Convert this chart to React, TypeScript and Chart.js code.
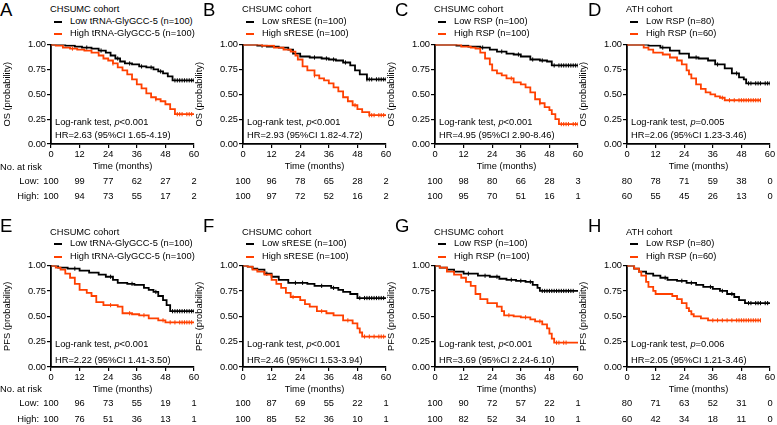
import React, { useEffect, useRef } from 'react';
import { Chart, registerables } from 'chart.js';
Chart.register(...registerables);

const FONT = '"Liberation Sans", Arial, Helvetica, sans-serif';
const BLACK = '#000000';
const RED = '#ff4000';
const FS = 9.3;

// ---------- Data (time in months, survival probability) ----------
const A_lowT = [0, 6, 10, 13, 17, 20, 23, 25, 27, 29, 31, 34, 37, 40, 43, 45, 47, 49, 51, 60];
const A_lowS = [1, 0.99, 0.98, 0.97, 0.96, 0.94, 0.92, 0.89, 0.86, 0.83, 0.81, 0.8, 0.78, 0.77, 0.75, 0.73, 0.71, 0.68, 0.64, 0.64];
const A_highT = [0, 2, 5, 8, 11, 14, 17, 20, 22, 24, 26, 28, 30, 32, 34, 36, 38, 40, 42, 44, 46, 48, 50, 52, 60];
const A_highS = [1, 0.99, 0.97, 0.96, 0.95, 0.94, 0.92, 0.89, 0.86, 0.84, 0.81, 0.77, 0.74, 0.7, 0.65, 0.6, 0.56, 0.51, 0.47, 0.45, 0.43, 0.4, 0.35, 0.3, 0.3];
const A_lowC = [15, 21, 28, 33, 38, 42, 46, 52, 53, 54, 55, 56, 57, 58, 59, 60];
const A_highC = [9, 26, 44, 53, 54, 55, 57, 58, 59];

const B_lowT = [0, 6, 10, 15, 19, 21, 24, 28, 33, 36, 39, 42, 45, 47, 49, 52, 60];
const B_lowS = [1, 0.99, 0.98, 0.97, 0.95, 0.91, 0.88, 0.87, 0.86, 0.85, 0.84, 0.82, 0.79, 0.74, 0.7, 0.65, 0.65];
const B_highT = [0, 8, 13, 17, 20, 22, 23, 25, 27, 30, 32, 34, 36, 38, 40, 42, 44, 46, 48, 50, 53, 60];
const B_highS = [1, 0.99, 0.97, 0.95, 0.93, 0.89, 0.85, 0.78, 0.74, 0.69, 0.66, 0.64, 0.61, 0.57, 0.53, 0.47, 0.43, 0.39, 0.35, 0.32, 0.29, 0.29];
const B_lowC = [8, 30, 35, 38, 43, 52, 53, 54, 56, 57, 58, 59, 60];
const B_highC = [30, 47, 53, 54, 55, 57, 58, 59];

const C_lowT = [0, 9, 14, 19, 23, 26, 30, 33, 36, 40, 44, 47, 49, 60];
const C_lowS = [1, 0.99, 0.98, 0.97, 0.95, 0.93, 0.91, 0.9, 0.88, 0.85, 0.84, 0.83, 0.79, 0.79];
const C_highT = [0, 11, 15, 17, 19, 21, 23, 24, 26, 28, 30, 33, 36, 38, 40, 42, 44, 46, 48, 49, 50.5, 52, 60];
const C_highS = [1, 0.98, 0.97, 0.96, 0.92, 0.86, 0.8, 0.74, 0.71, 0.69, 0.66, 0.62, 0.6, 0.57, 0.52, 0.45, 0.41, 0.37, 0.34, 0.3, 0.25, 0.2, 0.2];
const C_lowC = [20, 28, 35, 41, 45, 50, 52, 53, 54, 55, 56, 57, 58, 59, 60];
const C_highC = [32, 44, 53, 54, 55, 56, 58, 59, 60];

const D_lowT = [0, 9, 14, 18, 22, 26, 30, 34, 37, 41, 44, 47, 49, 50, 60];
const D_lowS = [1, 0.99, 0.97, 0.94, 0.91, 0.87, 0.86, 0.84, 0.8, 0.76, 0.71, 0.67, 0.65, 0.61, 0.61];
const D_highT = [0, 7, 9, 11, 15, 18, 21, 23, 25, 26, 27, 29, 31, 33, 35, 37, 39, 41, 56];
const D_highS = [1, 0.97, 0.95, 0.92, 0.9, 0.87, 0.84, 0.8, 0.74, 0.7, 0.66, 0.6, 0.555, 0.52, 0.5, 0.48, 0.465, 0.44, 0.44];
const D_lowC = [15, 29, 38, 46, 51, 52, 54, 55, 56, 58, 59, 60];
const D_highC = [40, 43, 45, 47, 48, 49, 50, 51, 52, 53, 54, 55, 56];

const E_lowT = [0, 3, 7, 12, 16, 20, 23, 26, 28, 32, 35, 39, 41, 43, 45, 47, 48.5, 50, 60];
const E_lowS = [1, 0.98, 0.97, 0.95, 0.93, 0.91, 0.89, 0.86, 0.83, 0.82, 0.81, 0.78, 0.76, 0.74, 0.7, 0.66, 0.61, 0.55, 0.55];
const E_highT = [0, 2, 4, 6, 8, 10, 12, 15, 17, 19, 22, 28, 30, 34, 37, 41, 45, 48, 60];
const E_highS = [1, 0.98, 0.96, 0.92, 0.88, 0.82, 0.76, 0.73, 0.7, 0.64, 0.61, 0.595, 0.53, 0.52, 0.51, 0.48, 0.46, 0.44, 0.44];
const E_lowC = [10, 25, 34, 44, 51, 52, 53, 54, 55, 56, 57, 58, 59, 60];
const E_highC = [25, 33, 39, 47, 50, 52, 54, 55, 56, 57, 58, 59];

const F_lowT = [0, 2, 4, 6, 9, 12, 15, 19, 27, 30, 37, 40, 42, 45, 48, 60];
const F_lowS = [1, 0.99, 0.97, 0.96, 0.92, 0.89, 0.86, 0.83, 0.82, 0.8, 0.78, 0.76, 0.74, 0.72, 0.68, 0.68];
const F_highT = [0, 2, 4, 6, 9, 12, 14, 16, 18, 20, 24, 26, 28, 31, 35, 38, 42, 46, 48, 49, 50, 60];
const F_highS = [1, 0.99, 0.96, 0.94, 0.91, 0.86, 0.82, 0.78, 0.73, 0.69, 0.66, 0.62, 0.595, 0.55, 0.53, 0.51, 0.46, 0.43, 0.38, 0.34, 0.3, 0.3];
const F_lowC = [10, 22, 25, 33, 38, 49, 51, 52, 53, 54, 55, 56, 57, 58, 59];
const F_highC = [21, 33, 44, 51, 53, 55, 57, 58, 59];

const G_lowT = [0, 2, 5, 8, 12, 18, 23, 27, 30, 34, 38, 41, 43, 44, 60];
const G_lowS = [1, 0.98, 0.96, 0.94, 0.92, 0.9, 0.89, 0.87, 0.86, 0.85, 0.84, 0.81, 0.78, 0.75, 0.75];
const G_highT = [0, 2, 5, 8, 11, 13, 15, 17, 19, 22, 26, 28, 29, 33, 36, 40, 42, 45, 47, 48, 49, 50, 60];
const G_highS = [1, 0.98, 0.94, 0.91, 0.88, 0.84, 0.8, 0.72, 0.67, 0.63, 0.595, 0.55, 0.51, 0.5, 0.49, 0.47, 0.45, 0.42, 0.38, 0.33, 0.28, 0.24, 0.24];
const G_lowC = [14, 21, 26, 32, 36, 40, 45, 46, 47, 48, 49, 50, 51, 52, 53, 54, 55, 56, 57, 58];
const G_highC = [31, 38, 44, 51, 52, 54, 55];

const H_lowT = [0, 3, 5, 8, 11, 14, 17, 21, 25, 29, 32, 36, 39, 42, 45, 47, 49.5, 60];
const H_lowS = [1, 0.97, 0.94, 0.92, 0.9, 0.88, 0.86, 0.85, 0.83, 0.81, 0.79, 0.77, 0.75, 0.72, 0.69, 0.66, 0.63, 0.63];
const H_highT = [0, 3, 5, 6, 8, 9, 11, 12, 19, 21, 23, 25, 26, 27, 28, 31, 34, 56];
const H_highS = [1, 0.97, 0.94, 0.9, 0.84, 0.79, 0.75, 0.72, 0.7, 0.67, 0.63, 0.58, 0.55, 0.52, 0.5, 0.48, 0.46, 0.46];
const H_lowC = [16, 23, 27, 35, 40, 44, 51, 52, 54, 55, 56, 58, 59];
const H_highC = [36, 38, 40, 42, 44, 46, 47, 48, 49, 50, 51, 52, 53, 54, 55, 56];

// at-risk tables
const RISK_TIMES = [0, 12, 24, 36, 48, 60];
const A_riskLow = [100, 99, 77, 62, 27, 2];
const A_riskHigh = [100, 94, 73, 55, 17, 2];
const B_riskLow = [100, 96, 78, 65, 28, 2];
const B_riskHigh = [100, 97, 72, 52, 16, 2];
const C_riskLow = [100, 98, 80, 66, 28, 3];
const C_riskHigh = [100, 95, 70, 51, 16, 1];
const D_riskLow = [80, 78, 71, 59, 38, 0];
const D_riskHigh = [60, 55, 45, 26, 13, 0];
const E_riskLow = [100, 96, 73, 55, 19, 1];
const E_riskHigh = [100, 76, 51, 36, 13, 1];
const F_riskLow = [100, 87, 69, 55, 22, 1];
const F_riskHigh = [100, 85, 52, 36, 10, 1];
const G_riskLow = [100, 90, 72, 57, 22, 1];
const G_riskHigh = [100, 82, 52, 34, 10, 1];
const H_riskLow = [80, 71, 63, 52, 31, 0];
const H_riskHigh = [60, 42, 34, 18, 11, 0];

const X_TICKS = [0, 12, 24, 36, 48, 60];
const Y_TICKS = [0, 0.25, 0.5, 0.75, 1];

// ---------- Layout ----------
const COL_X = [51, 243, 435, 627];
const LETTER_X = [0, 203, 395, 588];
const PLOT_W = 143;
const ROWS = [
  { top: 44, bottom: 144, letterY: 10, cohortY: 10, leg1Y: 22, leg2Y: 34.3, logY: 122.5, hrY: 136, riskHeadY: 168, riskLowY: 181.7, riskHighY: 197.3, yTitle: 'OS (probability)' },
  { top: 265, bottom: 367, letterY: 226, cohortY: 232.7, leg1Y: 243.5, leg2Y: 257.3, logY: 344.5, hrY: 360.5, riskHeadY: 390, riskLowY: 404, riskHighY: 419.5, yTitle: 'PFS (probability)' },
];

type PanelDef = {
  letter: string; row: number; col: number; cohort: string;
  lowLabel: string; highLabel: string; pText: string; hr: string;
  lowT: number[]; lowS: number[]; highT: number[]; highS: number[];
  lowC: number[]; highC: number[]; riskLow: number[]; riskHigh: number[];
};

const PANELS: PanelDef[] = [
  { letter: 'A', row: 0, col: 0, cohort: 'CHSUMC cohort', lowLabel: 'Low tRNA-GlyGCC-5 (n=100)', highLabel: 'High tRNA-GlyGCC-5 (n=100)', pText: '<0.001', hr: 'HR=2.63 (95%CI 1.65-4.19)', lowT: A_lowT, lowS: A_lowS, highT: A_highT, highS: A_highS, lowC: A_lowC, highC: A_highC, riskLow: A_riskLow, riskHigh: A_riskHigh },
  { letter: 'B', row: 0, col: 1, cohort: 'CHSUMC cohort', lowLabel: 'Low sRESE (n=100)', highLabel: 'High sRESE (n=100)', pText: '<0.001', hr: 'HR=2.93 (95%CI 1.82-4.72)', lowT: B_lowT, lowS: B_lowS, highT: B_highT, highS: B_highS, lowC: B_lowC, highC: B_highC, riskLow: B_riskLow, riskHigh: B_riskHigh },
  { letter: 'C', row: 0, col: 2, cohort: 'CHSUMC cohort', lowLabel: 'Low RSP (n=100)', highLabel: 'High RSP (n=100)', pText: '<0.001', hr: 'HR=4.95 (95%CI 2.90-8.46)', lowT: C_lowT, lowS: C_lowS, highT: C_highT, highS: C_highS, lowC: C_lowC, highC: C_highC, riskLow: C_riskLow, riskHigh: C_riskHigh },
  { letter: 'D', row: 0, col: 3, cohort: 'ATH cohort', lowLabel: 'Low RSP (n=80)', highLabel: 'High RSP (n=60)', pText: '=0.005', hr: 'HR=2.06 (95%CI 1.23-3.46)', lowT: D_lowT, lowS: D_lowS, highT: D_highT, highS: D_highS, lowC: D_lowC, highC: D_highC, riskLow: D_riskLow, riskHigh: D_riskHigh },
  { letter: 'E', row: 1, col: 0, cohort: 'CHSUMC cohort', lowLabel: 'Low tRNA-GlyGCC-5 (n=100)', highLabel: 'High tRNA-GlyGCC-5 (n=100)', pText: '<0.001', hr: 'HR=2.22 (95%CI 1.41-3.50)', lowT: E_lowT, lowS: E_lowS, highT: E_highT, highS: E_highS, lowC: E_lowC, highC: E_highC, riskLow: E_riskLow, riskHigh: E_riskHigh },
  { letter: 'F', row: 1, col: 1, cohort: 'CHSUMC cohort', lowLabel: 'Low sRESE (n=100)', highLabel: 'High sRESE (n=100)', pText: '<0.001', hr: 'HR=2.46 (95%CI 1.53-3.94)', lowT: F_lowT, lowS: F_lowS, highT: F_highT, highS: F_highS, lowC: F_lowC, highC: F_highC, riskLow: F_riskLow, riskHigh: F_riskHigh },
  { letter: 'G', row: 1, col: 2, cohort: 'CHSUMC cohort', lowLabel: 'Low RSP (n=100)', highLabel: 'High RSP (n=100)', pText: '<0.001', hr: 'HR=3.69 (95%CI 2.24-6.10)', lowT: G_lowT, lowS: G_lowS, highT: G_highT, highS: G_highS, lowC: G_lowC, highC: G_highC, riskLow: G_riskLow, riskHigh: G_riskHigh },
  { letter: 'H', row: 1, col: 3, cohort: 'ATH cohort', lowLabel: 'Low RSP (n=80)', highLabel: 'High RSP (n=60)', pText: '=0.006', hr: 'HR=2.05 (95%CI 1.21-3.46)', lowT: H_lowT, lowS: H_lowS, highT: H_highT, highS: H_highS, lowC: H_lowC, highC: H_highC, riskLow: H_riskLow, riskHigh: H_riskHigh },
];

function survAt(ts: number[], ss: number[], t: number) {
  let s = ss[0];
  for (let i = 0; i < ts.length; i++) if (ts[i] <= t) s = ss[i];
  return s;
}

const PAD_TOP = 6;
const X_AXIS_H = 28;
const Y_AXIS_W = 51;
const PAD_RIGHT = 10;

function KMChart({ p }: { p: PanelDef }) {
  const ref = useRef<HTMLCanvasElement | null>(null);
  const row = ROWS[p.row];
  const width = Y_AXIS_W + PLOT_W + PAD_RIGHT;
  const height = PAD_TOP + (row.bottom - row.top) + X_AXIS_H;
  useEffect(() => {
    if (!ref.current) return;
    const curve = (ts: number[], ss: number[], color: string, order: number) => ({
      data: ts.map((t, i) => ({ x: t, y: ss[i] })),
      borderColor: color, backgroundColor: color, borderWidth: 1.8,
      stepped: 'before' as const, pointRadius: 0, fill: false, order,
    });
    const cens = (ts: number[], ss: number[], cs: number[], color: string, order: number) => ({
      data: cs.map((t) => ({ x: t, y: survAt(ts, ss, t) })),
      borderColor: color, backgroundColor: color, borderWidth: 1,
      showLine: false, pointStyle: 'line' as const, rotation: 90, pointRadius: 2.1, order,
    });
    const tickFont = { family: FONT, size: FS };
    const chart = new Chart(ref.current, {
      type: 'line',
      data: {
        datasets: [
          curve(p.highT, p.highS, RED, 0) as any,
          cens(p.highT, p.highS, p.highC, RED, 0) as any,
          curve(p.lowT, p.lowS, BLACK, 1) as any,
          cens(p.lowT, p.lowS, p.lowC, BLACK, 1) as any,
        ],
      },
      options: {
        responsive: false,
        animation: false,
        devicePixelRatio: 1,
        events: [],
        layout: { padding: { top: PAD_TOP, right: PAD_RIGHT, left: 0, bottom: 0 } },
        plugins: { legend: { display: false }, tooltip: { enabled: false } },
        scales: {
          x: {
            type: 'linear', min: 0, max: 60,
            afterFit: (s: any) => { s.height = X_AXIS_H; },
            afterBuildTicks: (s: any) => { s.ticks = X_TICKS.map((v) => ({ value: v })); },
            ticks: { color: BLACK, font: tickFont, padding: 1, maxRotation: 0, autoSkip: false },
            grid: { display: true, drawOnChartArea: false, drawTicks: true, tickLength: 4, color: BLACK, lineWidth: 1.2 },
            border: { display: true, color: BLACK, width: 1.8 },
            title: { display: true, text: 'Time (months)', color: BLACK, font: tickFont, padding: { top: 0, bottom: 0 } },
          },
          y: {
            type: 'linear', min: 0, max: 1,
            afterFit: (s: any) => { s.width = Y_AXIS_W; },
            afterBuildTicks: (s: any) => { s.ticks = Y_TICKS.map((v) => ({ value: v })); },
            ticks: { color: BLACK, font: tickFont, padding: 1, callback: (v: any) => Number(v).toFixed(2) },
            grid: { display: true, drawOnChartArea: false, drawTicks: true, tickLength: 4, color: BLACK, lineWidth: 1.2 },
            border: { display: true, color: BLACK, width: 1.8 },
            title: { display: true, text: row.yTitle, color: BLACK, font: tickFont, padding: { top: 2, bottom: 0 } },
          },
        },
      } as any,
    });
    return () => chart.destroy();
  }, []);
  return (
    <canvas
      ref={ref}
      width={width}
      height={height}
      style={{ position: 'absolute', left: COL_X[p.col] - Y_AXIS_W, top: row.top - PAD_TOP, width, height }}
    />
  );
}

const txt = (x: number, y: number, size = FS, align: 'left' | 'center' | 'right' = 'left'): React.CSSProperties => ({
  position: 'absolute',
  left: x,
  top: y,
  fontSize: size,
  lineHeight: 1,
  fontFamily: FONT,
  color: BLACK,
  whiteSpace: 'nowrap',
  transform: `translate(${align === 'left' ? '0' : align === 'center' ? '-50%' : '-100%'}, -50%)`,
});

function PanelText({ p }: { p: PanelDef }) {
  const row = ROWS[p.row];
  const ax = COL_X[p.col];
  const xFor = (t: number) => ax + (t / 60) * PLOT_W;
  return (
    <>
      <div style={txt(LETTER_X[p.col], row.letterY, 18.5)}>{p.letter}</div>
      <div style={txt(ax - 1, row.cohortY)}>{p.cohort}</div>
      <div style={{ position: 'absolute', left: ax + 3, top: row.leg1Y - 1, width: 8, height: 2, background: BLACK }} />
      <div style={txt(ax + 19, row.leg1Y)}>{p.lowLabel}</div>
      <div style={{ position: 'absolute', left: ax + 3, top: row.leg2Y - 1, width: 8, height: 2, background: RED }} />
      <div style={txt(ax + 19, row.leg2Y)}>{p.highLabel}</div>
      <div style={txt(ax + 4, row.logY)}>Log-rank test, <i>p</i>{p.pText}</div>
      <div style={txt(ax + 4, row.hrY)}>{p.hr}</div>
      {RISK_TIMES.map((t, i) => (
        <div key={'l' + i} style={txt(xFor(t), row.riskLowY, FS, 'center')}>{p.riskLow[i]}</div>
      ))}
      {RISK_TIMES.map((t, i) => (
        <div key={'h' + i} style={txt(xFor(t), row.riskHighY, FS, 'center')}>{p.riskHigh[i]}</div>
      ))}
      {p.col === 0 && (
        <>
          <div style={txt(0, row.riskHeadY)}>No. at risk</div>
          <div style={txt(39, row.riskLowY, FS, 'right')}>Low:</div>
          <div style={txt(39, row.riskHighY, FS, 'right')}>High:</div>
        </>
      )}
    </>
  );
}

export default function App() {
  return (
    <div style={{ position: 'absolute', left: 0, top: 0, width: 777, height: 425, background: '#ffffff', overflow: 'hidden' }}>
      {PANELS.map((p) => (
        <KMChart key={'c' + p.letter} p={p} />
      ))}
      {PANELS.map((p) => (
        <PanelText key={'t' + p.letter} p={p} />
      ))}
    </div>
  );
}
